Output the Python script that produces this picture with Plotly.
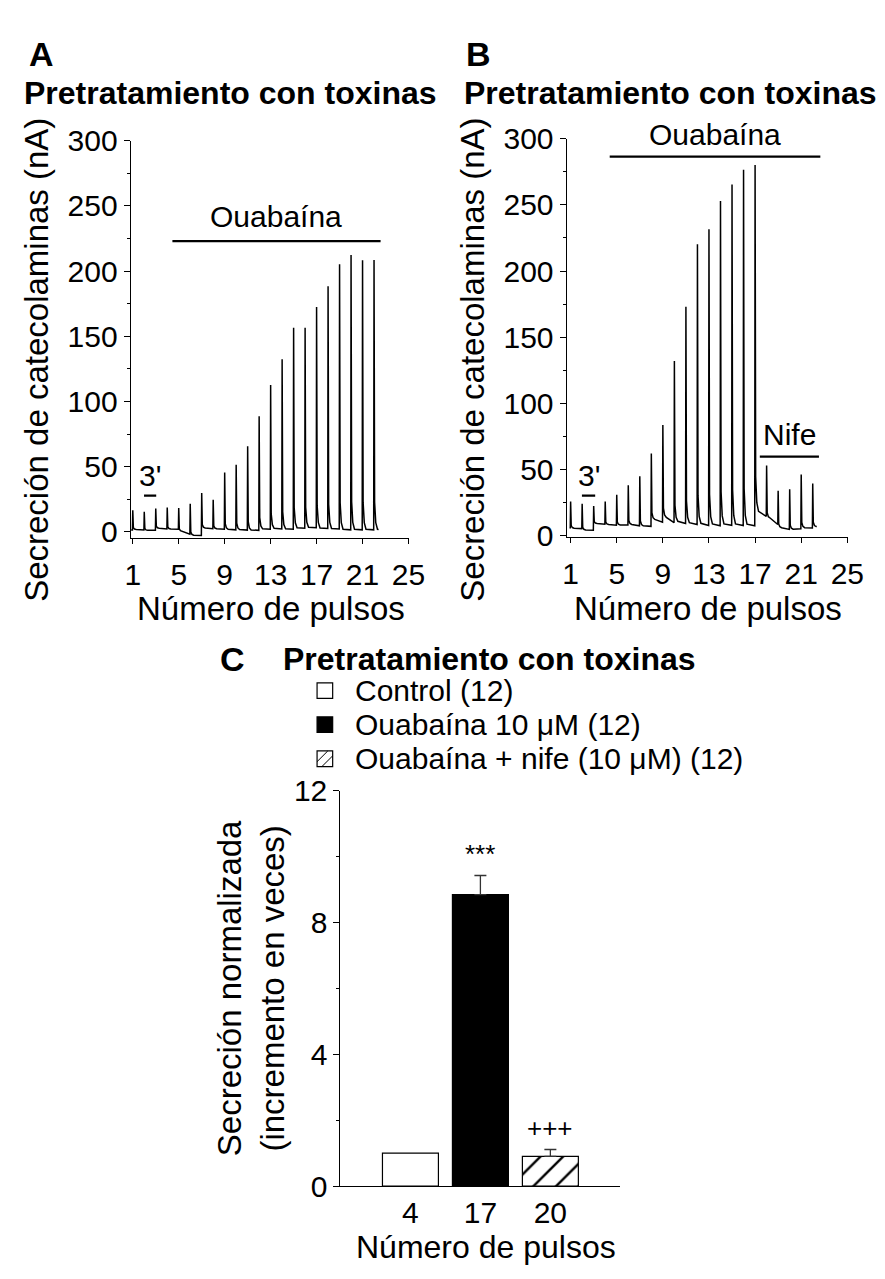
import plotly.graph_objects as go

W, H = 885, 1279
FONT = "Liberation Sans, Arial, sans-serif"

# ---------------- data: panel A ----------------
pulses = list(range(1, 23))
peaks_A = [16.6, 15.4, 17.9, 18.7, 18.4, 21.6, 29.8, 24.6, 45.5, 51.5, 65.7, 88.6,
           112.7, 132.3, 156.5, 156.5, 172.4, 188.3, 205.2, 212.4, 208.2, 208.5]
base_start_A = [1.8, 1.2, 2.8, 2.2, 0.5, -2.5, 3.0, 2.4, 2.0, 1.8, 1.5, 2.4,
                2.8, 2.4, 3.2, 3.6, 3.0, 2.6, 2.0, 2.0, 2.0, 2.0]
base_end_A = [1.5, 1.2, 2.2, 2.0, -1.8, -2.8, 2.4, 2.0, 1.6, 1.4, 1.2, 2.0,
              2.2, 2.0, 2.8, 3.2, 2.6, 2.2, 1.6, 1.6, 1.6, 1.8]
pre_base_A = 1.5
trace_span_A = (0.86, 22.4)
ouab_A = (4.45, 22.57, 223.0)
three_min_A = (1.98, 3.04, 27.8)

# ---------------- data: panel B ----------------
peaks_B = [26.0, 24.3, 22.5, 26.0, 31.1, 38.2, 45.1, 62.3, 83.8, 132.1, 173.0, 220.3,
           231.6, 252.9, 265.4, 276.5, 280.1, 53.2, 34.0, 35.3, 46.3, 39.5]
base_start_B = [5.8, 4.5, 9.4, 8.6, 8.2, 8.6, 7.6, 12.5, 14.0, 11.0, 10.0, 9.5,
                9.0, 9.0, 9.0, 8.8, 18.5, 13.5, 6.2, 5.0, 6.2, 7.0]
base_end_B = [5.5, 4.2, 8.8, 8.0, 8.2, 7.6, 7.2, 10.3, 10.0, 9.4, 8.6, 7.8,
              7.6, 8.0, 7.8, 7.6, 14.8, 8.6, 4.9, 5.4, 6.0, 7.0]
pre_base_B = 6.2
trace_span_B = (0.9, 22.35)
ouab_B = (4.39, 22.66, 286.5)
nife_B = (17.41, 22.54, 59.8)
three_min_B = (1.98, 3.13, 30.4)

# ---------------- data: panel C ----------------
c_categories = ["4", "17", "20"]
c_values = [1.0, 8.85, 0.90]
c_errors = [0.0, 0.58, 0.21]
c_names = ["Control (12)", "Ouabaína 10 μM (12)", "Ouabaína + nife (10 μM) (12)"]
c_signif = ["", "***", "+++"]

x_ticks_AB = [1, 5, 9, 13, 17, 21, 25]


def px_x(p):
    return p / W


def px_y(p):
    return 1 - p / H


def build_trace(peaks, bstart, bend, pre, span):
    xs = [span[0]]
    ys = [pre]
    prev = pre
    n = len(pulses)
    for i, p in enumerate(pulses):
        pk, s, e = peaks[i], bstart[i], bend[i]
        amp = pk - s
        xs += [p - 0.03, p, p + 0.05, p + 0.15, p + 0.3]
        ys += [prev, pk, s + 0.10 * amp, s + 0.025 * amp, s]
        nxt = pulses[i + 1] - 0.03 if i + 1 < n else span[1]
        xs.append(nxt)
        ys.append(e)
        prev = e
    return xs, ys


fig = go.Figure()

line_style = dict(color="black", width=1.5)

# Panel A trace
xa, ya = build_trace(peaks_A, base_start_A, base_end_A, pre_base_A, trace_span_A)
fig.add_trace(go.Scatter(x=xa, y=ya, mode="lines", line=line_style, xaxis="x", yaxis="y",
                         showlegend=False, hoverinfo="skip"))
fig.add_trace(go.Scatter(x=pulses, y=[-9.7] * len(pulses), mode="markers",
                         marker=dict(symbol="square", size=3.5, color="black"),
                         xaxis="x", yaxis="y", cliponaxis=False, showlegend=False))
for seg in (ouab_A, three_min_A):
    fig.add_trace(go.Scatter(x=[seg[0], seg[1]], y=[seg[2], seg[2]], mode="lines",
                             line=dict(color="black", width=2.2), xaxis="x", yaxis="y",
                             cliponaxis=False, showlegend=False))

# Panel B trace
xb, yb = build_trace(peaks_B, base_start_B, base_end_B, pre_base_B, trace_span_B)
fig.add_trace(go.Scatter(x=xb, y=yb, mode="lines", line=line_style, xaxis="x2", yaxis="y2",
                         showlegend=False, hoverinfo="skip"))
fig.add_trace(go.Scatter(x=pulses, y=[-6.4] * len(pulses), mode="markers",
                         marker=dict(symbol="square", size=3.5, color="black"),
                         xaxis="x2", yaxis="y2", cliponaxis=False, showlegend=False))
for seg in (ouab_B, nife_B, three_min_B):
    fig.add_trace(go.Scatter(x=[seg[0], seg[1]], y=[seg[2], seg[2]], mode="lines",
                             line=dict(color="black", width=2.2), xaxis="x2", yaxis="y2",
                             cliponaxis=False, showlegend=False))

# Panel C bars
bar_styles = [
    dict(color="white", line=dict(color="black", width=1.2)),
    dict(color="black", line=dict(color="black", width=1.2)),
    dict(color="white", line=dict(color="black", width=1.2),
         pattern=dict(shape="/", fgcolor="black", bgcolor="white", size=16, solidity=0.15,
                      fgopacity=1)),
]
for i in range(3):
    fig.add_trace(go.Bar(
        x=[i], y=[c_values[i]], width=0.8, marker=bar_styles[i], name=c_names[i],
        error_y=dict(type="data", symmetric=False, array=[c_errors[i]], arrayminus=[0],
                     color="#333", thickness=1.3, width=6, visible=c_errors[i] > 0),
        xaxis="x3", yaxis="y3", showlegend=False))

axis_common = dict(showline=True, linecolor="black", linewidth=1.3, showgrid=False,
                   zeroline=False, ticks="outside", tickcolor="black", tickwidth=1.3,
                   tickfont=dict(family=FONT, size=30, color="black"))

fig.update_layout(
    width=W, height=H, margin=dict(l=0, r=0, t=0, b=0),
    paper_bgcolor="white", plot_bgcolor="white", barmode="overlay",
    font=dict(family=FONT, color="black"),
    xaxis=dict(axis_common, domain=[px_x(128), px_x(413)], range=[0.83, 25.02],
               tickvals=x_ticks_AB, ticklen=5, ticklabelstandoff=5, anchor="y"),
    yaxis=dict(axis_common, domain=[px_y(535), px_y(127)], range=[-4.5, 300],
               dtick=50, ticklen=6, anchor="x",
               minor=dict(dtick=25, ticklen=3, ticks="outside", tickcolor="black")),
    xaxis2=dict(axis_common, domain=[px_x(575), px_x(863)], range=[0.66, 25.02],
                tickvals=x_ticks_AB, ticklen=5, ticklabelstandoff=5, anchor="y2"),
    yaxis2=dict(axis_common, domain=[px_y(534), px_y(125)], range=[-0.7, 300],
                dtick=50, ticklen=6, anchor="x2",
                minor=dict(dtick=25, ticklen=3, ticks="outside", tickcolor="black")),
    xaxis3=dict(axis_common, domain=[px_x(343), px_x(630)], range=[-1, 3],
                tickvals=[0, 1, 2], ticktext=c_categories, ticks="", anchor="y3"),
    yaxis3=dict(axis_common, domain=[px_y(1201), px_y(795)], range=[0, 12],
                tickvals=[0, 4, 8, 12], ticklen=6, anchor="x3",
                minor=dict(tickvals=[2, 6, 10], ticklen=3, ticks="outside", tickcolor="black")),
)

ann = []
title_font = dict(family=FONT, size=33, color="black")
label_font = dict(family=FONT, size=30, color="black")
bold_head = dict(family=FONT, size=32, color="black", weight="bold")
letter_font = dict(family=FONT, size=34, color="black", weight="bold")


def paper_text(text, x, y, font, xanchor="center", angle=0):
    ann.append(dict(text=text, x=px_x(x), y=px_y(y), xref="paper", yref="paper",
                    showarrow=False, font=font, xanchor=xanchor, yanchor="middle",
                    textangle=angle))


# headings
paper_text("A", 22, 38, letter_font, xanchor="left")
paper_text("B", 470, 38, letter_font, xanchor="left")
paper_text("Pretratamiento con toxinas", 16, 78, bold_head, xanchor="left")
paper_text("Pretratamiento con toxinas", 468, 78, bold_head, xanchor="left")
paper_text("C", 232, 660, letter_font)
paper_text("Pretratamiento con toxinas", 282, 660, bold_head, xanchor="left")

# axis titles
paper_text("Secreción de catecolaminas (nA)", 31, 352, title_font, angle=-90)
paper_text("Secreción de catecolaminas (nA)", 479, 352, title_font, angle=-90)
paper_text("Número de pulsos", 272, 608, title_font)
paper_text("Número de pulsos", 720, 608, title_font)
paper_text("Secreción normalizada<br>(incremento en veces)", 252, 998, title_font, angle=-90)
paper_text("Número de pulsos", 492, 1264, dict(title_font, size=32))


# in-plot labels anchored on the period bars (data coordinates)
def bar_label(text, seg, xr, yr, shift):
    ann.append(dict(text=text, x=(seg[0] + seg[1]) / 2, y=seg[2], xref=xr, yref=yr,
                    showarrow=False, font=label_font, xanchor="center", yanchor="bottom",
                    yshift=shift))


bar_label("Ouabaína", ouab_A, "x", "y", 6)
bar_label("3'", three_min_A, "x", "y", 2)
bar_label("Ouabaína", ouab_B, "x2", "y2", 4)
bar_label("Nife", nife_B, "x2", "y2", 4)
bar_label("3'", three_min_B, "x2", "y2", 2)

for i in range(3):
    if c_signif[i]:
        ann.append(dict(text=c_signif[i], x=i, y=c_values[i] + c_errors[i] + 0.65,
                        xref="x3", yref="y3", showarrow=False,
                        font=dict(family=FONT, size=26, color="black"),
                        xanchor="center", yanchor="middle"))

# legend for panel C (text + swatches)
legend_rows = [692, 727, 762]
shapes = []
for i, yrow in enumerate(legend_rows):
    paper_text(c_names[i], 356, yrow, label_font, xanchor="left")
    x0, x1 = 319, 335
    y0, y1 = yrow - 8, yrow + 8
    fill = "black" if i == 1 else "white"
    shapes.append(dict(type="rect", xref="paper", yref="paper",
                       x0=px_x(x0), x1=px_x(x1), y0=px_y(y1), y1=px_y(y0),
                       line=dict(color="black", width=1.2), fillcolor=fill))
    if i == 2:
        for (ax, ay, bx, by) in [(x0, y0 + 11, x0 + 11, y0), (x0 + 5, y1, x1, y0 + 5)]:
            shapes.append(dict(type="line", xref="paper", yref="paper",
                               x0=px_x(ax), y0=px_y(ay), x1=px_x(bx), y1=px_y(by),
                               line=dict(color="black", width=1)))

fig.update_layout(annotations=ann, shapes=shapes)
fig.write_html("out.html")
